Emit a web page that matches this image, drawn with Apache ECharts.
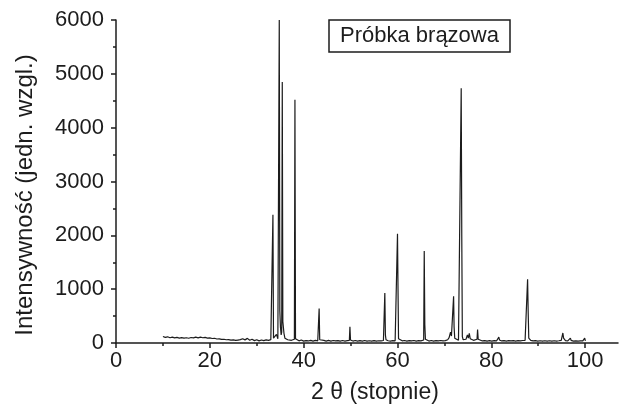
<!DOCTYPE html>
<html>
<head>
<meta charset="utf-8">
<script src="https://cdn.jsdelivr.net/npm/echarts@6/dist/echarts.min.js"></script>
<style>
html,body{margin:0;padding:0;background:#fff;}
#chart{width:621px;height:409px;}
</style>
</head>
<body>
<div id="chart"></div>
<script>
// 2θ positions (degrees) of the recorded pattern
var twoTheta = [
10.0,10.5,11.0,11.5,12.0,12.5,13.0,13.5,14.0,14.5,15.0,15.5,16.0,16.5,17.0,17.5,18.0,18.5,19.0,19.5,
20.0,20.5,21.0,21.5,22.0,22.5,23.0,23.5,24.0,24.5,25.0,25.5,26.0,26.5,27.0,27.5,28.0,28.5,29.0,29.5,
30.0,30.5,31.0,31.5,32.0,32.5,33.0,33.2,33.33,33.45,33.57,33.9,34.2,34.5,34.68,34.8,34.92,35.05,35.2,35.32,
35.44,35.56,35.8,36.0,36.3,36.6,37.0,37.4,37.8,38.02,38.14,38.26,38.6,39.0,39.5,40.0,40.5,41.0,41.5,42.0,
42.5,43.0,43.18,43.3,43.42,43.8,44.3,44.8,45.3,45.8,46.3,46.8,47.3,47.8,48.3,48.8,49.3,49.74,49.86,49.98,
50.5,51.0,51.5,52.0,52.5,53.0,53.5,54.0,54.5,55.0,55.5,56.0,56.5,57.0,57.18,57.3,57.42,57.55,58.0,58.5,
59.0,59.5,59.88,60.0,60.1,60.22,60.6,61.0,61.5,62.0,62.5,63.0,63.5,64.0,64.5,65.0,65.58,65.7,65.82,65.95,
66.2,66.7,67.2,67.7,68.2,68.7,69.2,69.7,70.2,70.7,71.0,71.3,71.5,71.75,71.86,71.96,72.06,72.2,72.6,73.0,
73.35,73.58,73.7,73.82,74.0,74.3,74.6,74.9,75.1,75.3,75.5,75.8,76.2,76.6,76.95,77.07,77.2,77.6,78.1,78.6,
79.1,79.6,80.1,80.6,81.1,81.45,81.6,81.75,82.2,82.7,83.2,83.7,84.2,84.7,85.2,85.7,86.2,86.7,87.2,87.6,
87.73,87.85,87.98,88.4,88.9,89.4,89.9,90.4,90.9,91.4,91.9,92.4,92.9,93.4,93.9,94.4,94.9,95.15,95.25,95.4,
95.8,96.3,96.7,96.85,97.0,97.5,98.0,98.5,99.0,99.5,99.75,99.9,100.05
];
// Intensity (relative units)
var intensity = [
120,105,115,98,110,95,104,92,100,90,98,88,102,94,108,96,110,98,104,92,
96,84,88,74,78,66,70,60,64,52,58,48,55,62,80,58,86,52,70,44,
60,40,56,44,58,50,62,70,80,2380,90,70,160,80,90,6000,600,300,150,200,
4850,400,180,90,120,60,70,50,60,70,4520,80,60,40,55,35,45,38,50,36,
48,40,50,640,60,40,50,35,48,36,46,38,44,34,46,36,44,50,300,55,
36,46,34,44,36,46,34,42,36,44,34,42,38,46,60,930,150,60,42,36,
44,40,60,2030,1100,80,50,40,46,36,44,38,46,36,44,40,55,1710,350,70,
44,36,46,36,44,38,46,40,44,60,100,200,130,100,120,870,300,90,60,50,
80,4730,2000,120,60,80,70,150,90,180,80,60,50,60,70,250,70,45,38,44,
36,44,36,44,38,60,110,55,38,44,36,44,38,44,36,44,38,46,50,70,
1185,600,90,50,40,44,36,42,36,42,36,42,36,42,36,42,50,80,186,90,
45,40,50,90,50,36,40,34,40,40,60,90,40
];
var xTicks = [0, 20, 40, 60, 80, 100];
var xMinorTicks = [10, 30, 50, 70, 90];
var yTicks = [0, 1000, 2000, 3000, 4000, 5000, 6000];
var sampleName = 'Próbka brązowa';
var xName = '2 θ (stopnie)';
var yName = 'Intensywność (jedn. wzgl.)';

var pts = twoTheta.map(function (x, i) { return [x, intensity[i]]; });
var FONT = "'Liberation Sans', Arial, sans-serif";
var INK = '#1c1c1c';
var plain = function (v) { return String(v); };

var chart = echarts.init(document.getElementById('chart'), null, {renderer: 'canvas'});
chart.setOption({
  animation: false,
  backgroundColor: '#fff',
  title: {
    text: sampleName,
    left: 329, top: 20,
    padding: [5, 11, 5, 11],
    borderColor: INK, borderWidth: 1.5,
    textStyle: {fontFamily: FONT, fontSize: 22, fontWeight: 'normal', color: INK}
  },
  grid: {left: 116, right: 3, top: 20, bottom: 66, containLabel: false},
  xAxis: [{
    type: 'value', min: 0, max: 107,
    name: xName, nameLocation: 'middle', nameGap: 38,
    nameTextStyle: {fontFamily: FONT, fontSize: 23, color: INK, padding: [0, 0, 0, 16]},
    axisLine: {show: true, onZero: false, lineStyle: {color: INK, width: 1.5}},
    axisTick: {show: true, inside: false, length: 5, customValues: xTicks, lineStyle: {color: INK, width: 1.5}},
    axisLabel: {customValues: xTicks, formatter: plain, margin: 7, fontFamily: FONT, fontSize: 22, color: INK},
    splitLine: {show: false}
  }, {
    type: 'value', min: 0, max: 107, position: 'bottom',
    axisLine: {show: false},
    axisTick: {show: true, length: 3, customValues: xMinorTicks, lineStyle: {color: INK, width: 1.5}},
    axisLabel: {show: false},
    splitLine: {show: false}
  }],
  yAxis: {
    type: 'value', min: 0, max: 6000, interval: 1000,
    name: yName, nameLocation: 'middle', nameGap: 79, nameRotate: 90,
    nameTextStyle: {fontFamily: FONT, fontSize: 24, color: INK, padding: [0, 27, 0, 0]},
    axisLine: {show: true, lineStyle: {color: INK, width: 1.5}},
    axisTick: {show: true, length: 5, customValues: yTicks, lineStyle: {color: INK, width: 1.5}},
    minorTick: {show: true, splitNumber: 2, length: 3, lineStyle: {color: INK, width: 1.5}},
    axisLabel: {customValues: yTicks, formatter: plain, margin: 12, fontFamily: FONT, fontSize: 22, color: INK},
    splitLine: {show: false}, minorSplitLine: {show: false}
  },
  series: [{
    type: 'line', xAxisIndex: 0, data: pts,
    showSymbol: false, symbol: 'none',
    lineStyle: {color: INK, width: 1.2},
    emphasis: {disabled: true}
  }]
});
</script>
</body>
</html>
